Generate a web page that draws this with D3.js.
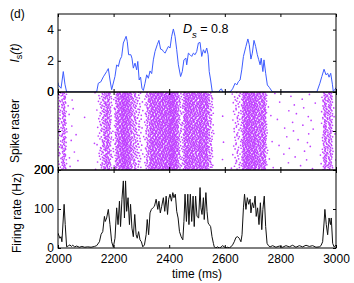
<!DOCTYPE html>
<html><head><meta charset="utf-8">
<script src="https://cdn.jsdelivr.net/npm/d3@7/dist/d3.min.js"></script>
<style>
html,body{margin:0;padding:0;background:#fff;}
svg{display:block;font-family:"Liberation Sans",Arial,Helvetica,sans-serif;}
</style></head>
<body>
<svg id="chart" width="354" height="283"></svg>
<script>
// ---------- data ----------
const xTicks = [2000, 2200, 2400, 2600, 2800, 3000];
const isTicks = [0, 2, 4];
const rasterTicks = [0, 100, 200];
const rasterTickLabels = ["0", "", "200"];
const rateTicks = [0, 100, 200];
const panelLabel = "(d)";
const dsText = "0.8";
const nNeurons = 200;

// I_s(t) synaptic input (top panel)
const isTime = [2000,2001,2011,2019,2025,2031,2139,2145,2154,2163,2175,2181,2187,2193,2205,2211,2217,2223,2229,2235,2245,2249,2254,2262,2266,2271,2277,2283,2287,2292,2297,2302,2307,2313,2319,2325,2331,2337,2343,2349,2357,2363,2369,2375,2379,2385,2391,2397,2403,2409,2415,2421,2427,2433,2441,2447,2453,2460,2463,2469,2475,2481,2487,2493,2499,2505,2511,2517,2523,2529,2535,2540,2544,2549,2555,2579,2583,2588,2593,2619,2628,2637,2643,2649,2655,2661,2667,2676,2683,2688,2694,2699,2705,2711,2717,2722,2727,2731,2737,2741,2747,2753,2760,2769,2773,2931,2942,2949,2957,2964,2970,2975,2981,2987,2990,2996,3000];
const isValue = [0.6,0.45,0.24,1.31,0.5,0,0,0.56,0.65,0.97,1.31,1.5,0.77,0.15,1.0,1.74,1.63,2.06,2.28,3.14,3.57,3.25,2.39,2.39,2.17,1.53,1.85,1.42,1.96,0.77,0.95,0.24,0.1,0.56,1.1,0.88,1.35,1.18,2.06,2.6,3.03,3.31,2.75,2.71,2.6,2.49,2.71,2.92,2.82,3.57,4.04,3.57,2.71,1.74,0.99,1.31,2.06,2.17,1.74,2.49,2.39,2.28,2.49,2.39,2.6,3.14,3.18,2.28,2.71,2.49,2.82,2.39,1.31,0.77,0,0,0.15,0.2,0,0,0.2,0.56,0.45,0.67,0.77,1.42,2.28,2.92,3.4,3.03,2.11,2.49,3.31,2.92,2.39,2.07,1.74,2.17,1.31,2.06,1.2,0.45,0.3,0.06,0,0,0.56,0.99,1.46,1.1,1.2,0.95,1.2,0.5,0.06,0.15,0.28];

// population firing rate (bottom panel), Hz
const rateTime = [2000,2007,2011,2014,2022,2026,2031,2038,2043,2048,2053,2060,2067,2077,2086,2096,2107,2119,2131,2139,2149,2155,2161,2167,2170,2175,2181,2187,2193,2199,2205,2211,2216,2221,2225,2230,2235,2239,2243,2247,2252,2257,2261,2266,2271,2276,2281,2285,2290,2295,2300,2305,2311,2317,2321,2326,2331,2336,2341,2347,2353,2359,2363,2368,2373,2379,2384,2389,2394,2398,2403,2408,2413,2417,2422,2427,2432,2437,2443,2449,2453,2457,2462,2467,2471,2476,2481,2486,2490,2495,2500,2506,2511,2514,2518,2523,2526,2532,2536,2540,2544,2549,2554,2559,2562,2568,2574,2580,2586,2592,2598,2604,2610,2616,2622,2628,2634,2640,2646,2652,2658,2662,2667,2671,2676,2681,2686,2691,2694,2699,2704,2709,2713,2718,2723,2728,2733,2737,2742,2747,2752,2757,2763,2772,2784,2796,2808,2820,2832,2844,2856,2868,2880,2892,2904,2916,2928,2940,2946,2952,2957,2960,2965,2970,2975,2980,2983,2988,2993,3000];
const rateValue = [38,25,29,16,112,60,3,6,8,4,7,3,5,2,4,2,3,2,4,6,16,35,42,81,68,77,99,60,16,2,25,103,60,120,55,125,172,77,172,94,129,60,112,51,29,86,34,25,42,21,16,3,8,34,73,34,90,99,103,107,125,99,120,90,107,129,94,133,86,125,138,120,142,129,138,94,77,42,29,21,68,138,68,138,60,138,68,133,55,133,81,77,155,103,86,129,73,142,94,64,60,55,29,12,3,0,3,0,2,6,3,0,2,0,3,8,16,27,29,25,16,34,103,138,99,129,112,125,90,116,103,133,81,103,60,116,47,99,133,55,12,6,3,6,2,5,2,6,3,7,2,6,3,7,4,6,2,3,6,16,64,99,60,34,77,60,77,12,3,8];

// ---------- layout ----------
const L = 58, R = 336;
const P1 = [14, 92], P2 = [92, 170], P3 = [170, 248];
const blue = "#3d5cff", purple = "#bf40ff";

const svg = d3.select("#chart");
const x = d3.scaleLinear().domain([2000, 3000]).range([L, R]);
const yIs = d3.scaleLinear().domain([0, 5]).range([P1[1], P1[0]]);
const yRaster = d3.scaleLinear().domain([0, nNeurons]).range([P2[0], P2[1]]);
const yRate = d3.scaleLinear().domain([0, 200]).range([P3[1], P3[0]]);

const defs = svg.append("defs");
[["c1", P1], ["c2", P2], ["c3", P3]].forEach(([id, p]) => {
  defs.append("clipPath").attr("id", id).append("rect")
    .attr("x", L).attr("y", p[0]).attr("width", R - L).attr("height", p[1] - p[0]);
});

// ---------- raster derived from the firing rate (deterministic Halton placement) ----------
function halton(i, b) { let f = 1, r = 0; while (i > 0) { f /= b; r += f * (i % b); i = Math.floor(i / b); } return r; }
const spikes = [];
{
  let acc = 0, n = 0;
  const k = 0.55;
  for (let i = 0; i < rateTime.length - 1; i++) {
    const t0 = rateTime[i], t1 = rateTime[i + 1];
    const r = Math.max(0, (rateValue[i] + rateValue[i + 1]) / 2 - 2.5);
    acc += r * nNeurons * (t1 - t0) / 1000 * k;
    while (acc >= 1) {
      acc -= 1; n++;
      spikes.push({ t: t0 + halton(n, 2) * (t1 - t0), neuron: halton(n, 3) * nNeurons });
    }
  }
}

svg.append("g").attr("clip-path", "url(#c2)")
  .selectAll("circle").data(spikes).join("circle")
  .attr("cx", d => x(d.t)).attr("cy", d => yRaster(d.neuron))
  .attr("r", 0.85).attr("fill", purple);

// ---------- lines ----------
const isPts = isTime.map((t, i) => [t, isValue[i]]);
const ratePts = rateTime.map((t, i) => [t, rateValue[i]]);

svg.append("path").datum(isPts).attr("clip-path", "url(#c1)")
  .attr("d", d3.line().x(d => x(d[0])).y(d => yIs(d[1])))
  .attr("fill", "none").attr("stroke", blue).attr("stroke-width", 1);

svg.append("path").datum(ratePts).attr("clip-path", "url(#c3)")
  .attr("d", d3.line().x(d => x(d[0])).y(d => yRate(d[1])))
  .attr("fill", "none").attr("stroke", "#111").attr("stroke-width", 1);

// ---------- axes ----------
function styleAxis(g) {
  g.select(".domain").remove();
  g.selectAll(".tick line").attr("stroke", "#000");
  g.selectAll("text").attr("fill", "#000").attr("font-size", 12);
}
function panelAxes(p, yScale, yTicks, yLabels, showX) {
  svg.append("g").attr("transform", `translate(${L},0)`)
    .call(d3.axisLeft(yScale).tickValues(yTicks).tickSize(-3).tickPadding(4)
      .tickFormat((d, i) => yLabels ? yLabels[i] : d))
    .call(styleAxis);
  svg.append("g").attr("transform", `translate(${R},0)`)
    .call(d3.axisRight(yScale).tickValues(yTicks).tickSize(-3).tickFormat(""))
    .call(styleAxis);
  svg.append("g").attr("transform", `translate(0,${p[0]})`)
    .call(d3.axisTop(x).tickValues(xTicks).tickSize(-3).tickFormat(""))
    .call(styleAxis);
  svg.append("g").attr("transform", `translate(0,${p[1]})`)
    .call(d3.axisBottom(x).tickValues(xTicks).tickSize(-3).tickPadding(6)
      .tickFormat(showX ? d3.format("d") : ""))
    .call(styleAxis);
  svg.append("rect").attr("x", L).attr("y", p[0]).attr("width", R - L).attr("height", p[1] - p[0])
    .attr("fill", "none").attr("stroke", "#000").attr("stroke-width", 1);
}
panelAxes(P1, yIs, isTicks, null, false);
panelAxes(P2, yRaster, rasterTicks, rasterTickLabels, false);
panelAxes(P3, yRate, rateTicks, null, true);

// ---------- texts ----------
svg.append("text").attr("x", 10).attr("y", 18).attr("font-size", 12).text(panelLabel);

const ds = svg.append("text").attr("x", 183).attr("y", 32.5).attr("font-size", 12.5);
ds.append("tspan").attr("font-style", "italic").text("D");
ds.append("tspan").attr("font-style", "italic").attr("font-size", 9.5).attr("dy", 5).text("s");
ds.append("tspan").attr("dy", -5).text(" = " + dsText);

const yl1 = svg.append("text").attr("transform", `translate(18.5,${(P1[0] + P1[1]) / 2}) rotate(-90)`)
  .attr("text-anchor", "middle").attr("font-size", 12);
yl1.append("tspan").attr("font-style", "italic").text("I");
yl1.append("tspan").attr("font-size", 9).attr("dy", 3).text("s");
yl1.append("tspan").attr("dy", -3).attr("font-style", "italic").text("(t)");

svg.append("text").attr("transform", `translate(18.5,${(P2[0] + P2[1]) / 2}) rotate(-90)`)
  .attr("text-anchor", "middle").attr("font-size", 12).text("Spike raster");
svg.append("text").attr("transform", `translate(20.5,${(P3[0] + P3[1]) / 2 + 4}) rotate(-90)`)
  .attr("text-anchor", "middle").attr("font-size", 12).text("Firing rate (Hz)");

svg.append("text").attr("x", (L + R) / 2).attr("y", 278).attr("text-anchor", "middle")
  .attr("font-size", 12).text("time (ms)");
</script>
</body></html>
